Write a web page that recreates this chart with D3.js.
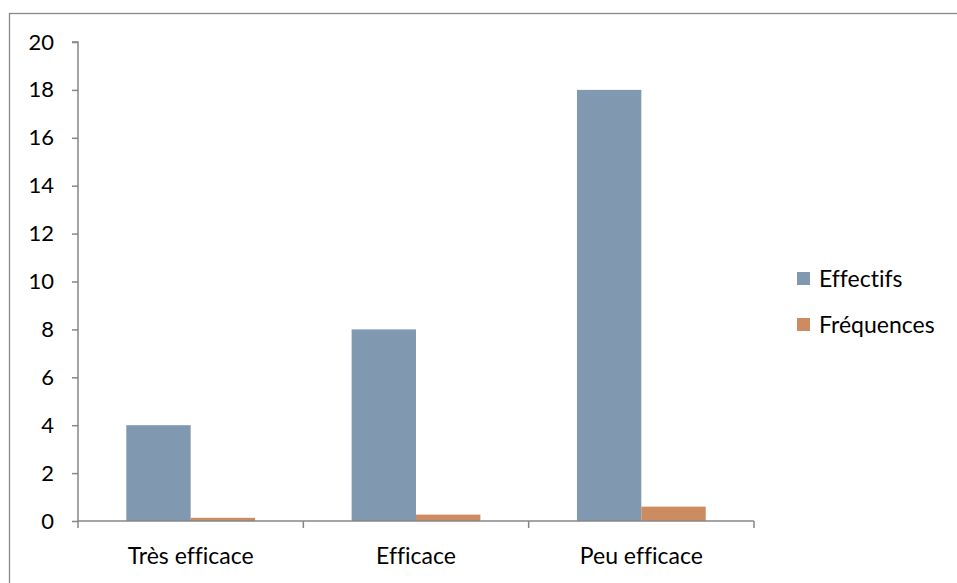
<!DOCTYPE html>
<html>
<head>
<meta charset="utf-8">
<script src="https://cdn.jsdelivr.net/npm/d3@7"></script>
<style>
  html, body { margin: 0; padding: 0; background: #fff; }
  svg { display: block; }
  text { font-family: Lato, "Open Sans", sans-serif; fill: #000; font-variant-ligatures: none; font-feature-settings: "liga" 0, "dlig" 0; }
</style>
</head>
<body>
<svg id="chart" width="957" height="583"></svg>
<script>
// Response categories and the two series (counts and relative frequencies)
const categories = ["Très efficace", "Efficace", "Peu efficace"];
const seriesNames = ["Effectifs", "Fréquences"];
const effectifs = [4, 8, 18];
const frequences = [0.133, 0.267, 0.6];
const yTicks = [0, 2, 4, 6, 8, 10, 12, 14, 16, 18, 20];
const colors = ["#8099b0", "#cc8c5f"];

const svg = d3.select("#chart");
const W = 957, H = 583;
const plot = { left: 78, right: 754, top: 42, bottom: 521 };

// Outer chart frame
svg.append("rect")
  .attr("x", 9.5).attr("y", 13.5)
  .attr("width", W + 10).attr("height", H + 10)
  .attr("fill", "#fff").attr("stroke", "#888").attr("stroke-width", 1.3);

const x = d3.scaleBand().domain(categories).range([plot.left, plot.right]).paddingInner(0).paddingOuter(0);
const xInner = d3.scaleBand().domain(seriesNames).range([0, x.bandwidth()]).paddingInner(0).paddingOuter(0.75);
const y = d3.scaleLinear().domain([0, 20]).range([plot.bottom, plot.top]);

const data = categories.map((c, i) => ({ cat: c, values: [effectifs[i], frequences[i]] }));

// Bars
const groups = svg.append("g").selectAll("g").data(data).join("g")
  .attr("transform", d => `translate(${x(d.cat)},0)`);
groups.selectAll("rect")
  .data(d => d.values.map((v, j) => ({ name: seriesNames[j], v, j })))
  .join("rect")
  .attr("x", d => xInner(d.name))
  .attr("width", xInner.bandwidth())
  .attr("y", d => y(d.v))
  .attr("height", d => y(0) - y(d.v))
  .attr("fill", d => colors[d.j]);

// Y axis
const yAxis = svg.append("g")
  .attr("transform", `translate(${plot.left},0)`)
  .call(d3.axisLeft(y).tickValues(yTicks).tickSize(6).tickPadding(18).tickFormat(d3.format("d")));
yAxis.select(".domain").attr("stroke", "#868686").attr("stroke-width", 1.5).attr("d", `M-6,${plot.top}H0V${plot.bottom}`);
yAxis.selectAll(".tick line").attr("stroke", "#868686").attr("stroke-width", 1.5);
yAxis.selectAll(".tick text").style("font-family", "Lato, sans-serif").style("font-size", "22px").attr("fill", "#000");

// X axis with ticks at category boundaries
const xAxisG = svg.append("g").attr("transform", `translate(0,${plot.bottom})`);
xAxisG.append("line")
  .attr("x1", plot.left).attr("x2", plot.right)
  .attr("stroke", "#868686").attr("stroke-width", 1.5);
const boundaries = categories.map(c => x(c)).concat([x(categories[categories.length - 1]) + x.bandwidth()]);
xAxisG.selectAll("line.b").data(boundaries).join("line")
  .attr("class", "b")
  .attr("x1", d => d).attr("x2", d => d)
  .attr("y1", 0).attr("y2", 7)
  .attr("stroke", "#868686").attr("stroke-width", 1.5);
xAxisG.selectAll("text").data(categories).join("text")
  .attr("x", d => x(d) + x.bandwidth() / 2)
  .attr("y", 43)
  .attr("text-anchor", "middle")
  .style("font-size", "23px")
  .text(d => d);

// Legend
const legend = svg.append("g").selectAll("g").data(seriesNames).join("g")
  .attr("transform", (d, i) => `translate(797,${279 + i * 46})`);
legend.append("rect")
  .attr("x", 0).attr("y", -7).attr("width", 13).attr("height", 13)
  .attr("fill", (d, i) => colors[i]);
legend.append("text")
  .attr("x", 22).attr("y", 8)
  .style("font-size", "23px")
  .text(d => d);
</script>
</body>
</html>
